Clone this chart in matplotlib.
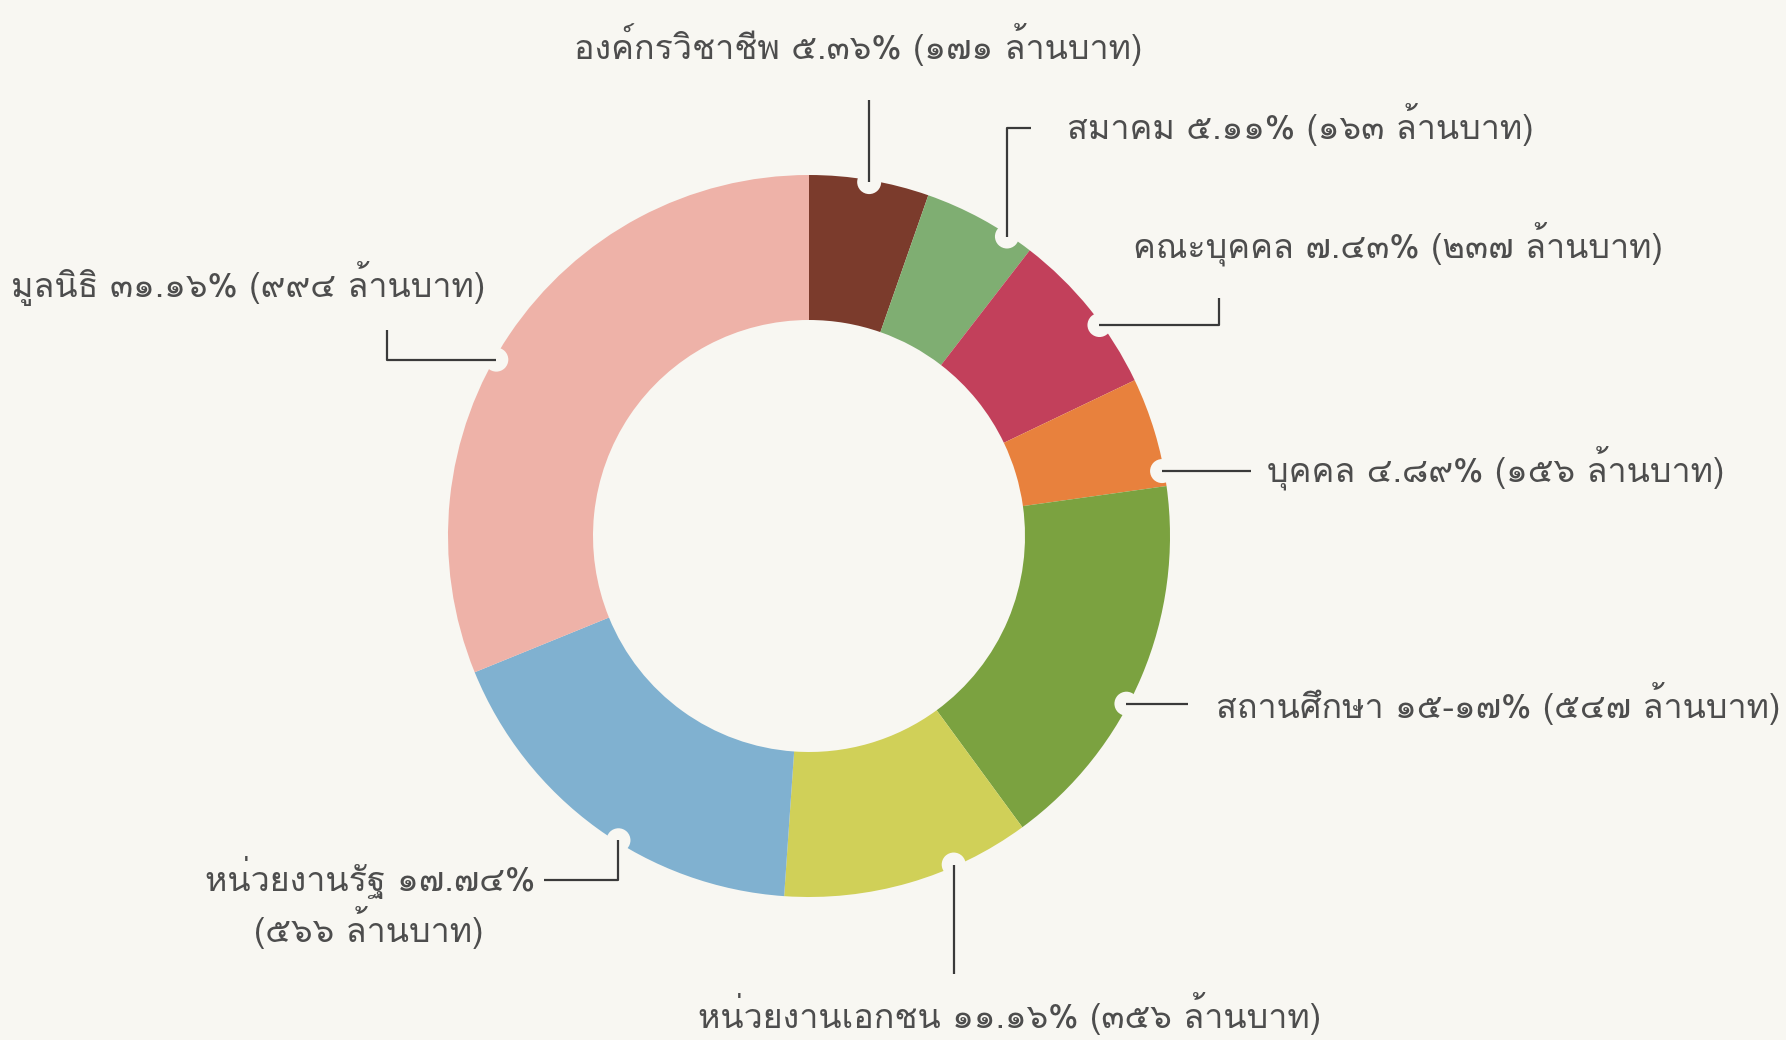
import numpy as np
import matplotlib
matplotlib.use('Agg')
from matplotlib import pyplot
from matplotlib import font_manager
from matplotlib.ft2font import FT2Font
from matplotlib.patches import Circle

# Canvas size in pixels (figure drawn at dpi 100)
WIDTH = 1786
HEIGHT = 1040

# Budget by recipient type, million baht, clockwise from 12 o'clock
names = ['องค์กรวิชาชีพ', 'สมาคม', 'คณะบุคคล', 'บุคคล', 'สถานศึกษา',
         'หน่วยงานเอกชน', 'หน่วยงานรัฐ', 'มูลนิธิ']
amounts = [171, 163, 237, 156, 547, 356, 566, 994]
percent_labels = ['๕.๓๖%', '๕.๑๑%', '๗.๔๓%', '๔.๘๙%', '๑๕-๑๗%',
                  '๑๑.๑๖%', '๑๗.๗๔%', '๓๑.๑๖%']
amount_labels = ['(๑๗๑ ล้านบาท)', '(๑๖๓ ล้านบาท)', '(๒๓๗ ล้านบาท)', '(๑๕๖ ล้านบาท)',
                 '(๕๔๗ ล้านบาท)', '(๓๕๖ ล้านบาท)', '(๕๖๖ ล้านบาท)', '(๙๙๔ ล้านบาท)']
colors = ['#7b3b2c', '#7fae72', '#c2405b', '#e8813d', '#7ba240',
          '#d0d058', '#80b1d0', '#eeb2a8']

BACKGROUND = '#f8f7f2'
TEXT_COLOR = '#4d4d4d'
LINE_COLOR = '#3a3a3a'
FONT_SIZE = 24.5

CENTER = (809, 536)
OUTER = 361
RING = 145
NOTCH = 12

# where along each wedge (0..1) the leader line is hooked
anchor_frac = [0.5, 0.77, 0.61, 0.86, 0.58, 0.31, 0.44, 0.46]
# leader path after the notch: ('h', x) run horizontally, ('v', y) run vertically
leaders = [
    [('v', 100)],
    [('v', 128), ('h', 1031)],
    [('h', 1219), ('v', 298)],
    [('h', 1251)],
    [('h', 1188)],
    [('v', 974)],
    [('v', 880), ('h', 544)],
    [('h', 387), ('v', 330)],
]
# text anchor (x, baseline y, horizontal alignment)
text_pos = [
    (858, 59, 'center'),
    (1067, 139, 'left'),
    (1133, 257, 'left'),
    (1267, 482, 'left'),
    (1216, 718, 'left'),
    (1010, 1028, 'center'),
    (535, 891, 'right'),
    (248, 297, 'center'),
]


def thai_family():
    # first installed font that actually carries Thai glyphs
    for entry in font_manager.fontManager.ttflist:
        try:
            if 0x0E01 in FT2Font(entry.fname).get_charmap():
                return entry.name
        except Exception:
            continue
    return 'DejaVu Sans'


def main():
    family = [thai_family(), 'DejaVu Sans']
    pyplot.rcParams['font.family'] = family

    figure = pyplot.figure(figsize=(WIDTH / 100, HEIGHT / 100), dpi=100, facecolor=BACKGROUND)
    axes = figure.add_axes([0, 0, 1, 1])
    axes.set_facecolor(BACKGROUND)

    # y runs downwards, so the ring starts at -90 and turns counterclockwise in data terms
    wedges, _ = axes.pie(amounts, colors=colors, center=CENTER, radius=OUTER,
                         startangle=-90, counterclock=True,
                         wedgeprops=dict(width=RING, linewidth=0))

    axes.set_xlim(0, WIDTH)
    axes.set_ylim(HEIGHT, 0)
    axes.set_aspect('equal')
    axes.axis('off')

    for i, wedge in enumerate(wedges):
        theta = np.radians(wedge.theta1 + anchor_frac[i] * (wedge.theta2 - wedge.theta1))
        nx = CENTER[0] + (OUTER - 2) * np.cos(theta)
        ny = CENTER[1] + (OUTER - 2) * np.sin(theta)
        axes.add_patch(Circle((nx, ny), NOTCH, facecolor=BACKGROUND, edgecolor='none', zorder=3))

        xs, ys = [nx], [ny]
        for move, value in leaders[i]:
            if move == 'h':
                xs.append(value)
                ys.append(ys[-1])
            else:
                xs.append(xs[-1])
                ys.append(value)
        axes.plot(xs, ys, color=LINE_COLOR, linewidth=1.6, zorder=4, solid_capstyle='butt')

        x, y, ha = text_pos[i]
        if names[i] == 'หน่วยงานรัฐ':
            axes.text(x, y, f'{names[i]} {percent_labels[i]}', ha=ha, va='baseline',
                      fontsize=FONT_SIZE, color=TEXT_COLOR)
            axes.text(369, y + 51, amount_labels[i], ha='center', va='baseline',
                      fontsize=FONT_SIZE, color=TEXT_COLOR)
        else:
            axes.text(x, y, f'{names[i]} {percent_labels[i]} {amount_labels[i]}', ha=ha,
                      va='baseline', fontsize=FONT_SIZE, color=TEXT_COLOR)

    figure.savefig('out.png', dpi=100, facecolor=BACKGROUND)


if __name__ == '__main__':
    main()
